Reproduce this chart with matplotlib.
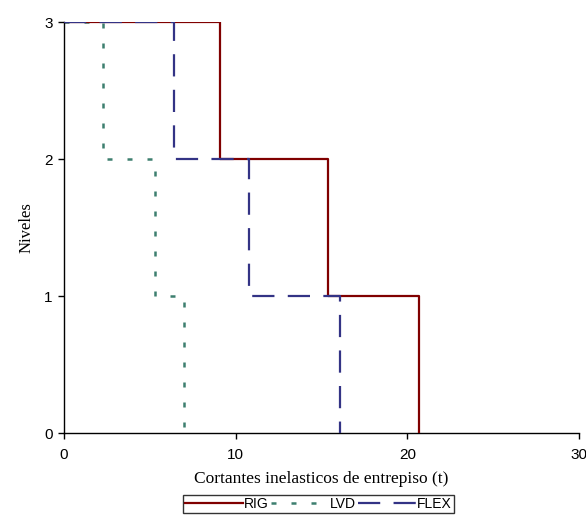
import matplotlib
matplotlib.use("Agg")
import matplotlib.pyplot as plt

levels = [3, 3, 2, 2, 1, 1, 0]
rig_shear = [9.1, 15.4, 20.7]
lvd_shear = [2.3, 5.3, 7.0]
flex_shear = [6.4, 10.8, 16.1]
series_names = ["RIG", "LVD", "FLEX"]
x_ticks = [0, 10, 20, 30]
y_ticks = [0, 1, 2, 3]


def step_x(v):
    return [0, v[0], v[0], v[1], v[1], v[2], v[2]]


fig = plt.figure(figsize=(5.86, 5.27), dpi=100)
ax = fig.add_axes([0.109, 0.178, 0.879, 0.780])

ax.plot(step_x(rig_shear), levels, color="#800000", lw=1.6, label=series_names[0], zorder=3)
ax.plot(step_x(lvd_shear), levels, color="#3d7f6f", lw=1.8, linestyle=(0, (2, 6)), label=series_names[1], zorder=2)
ax.plot(step_x(flex_shear), levels, color="#333385", lw=1.6, linestyle=(0, (10, 6)), label=series_names[2], zorder=4)

ax.set_xlim(0, 30)
ax.set_ylim(0, 3)
ax.set_xticks(x_ticks)
ax.set_yticks(y_ticks)
for s in ["top", "right"]:
    ax.spines[s].set_visible(False)
for s in ["left", "bottom"]:
    ax.spines[s].set_linewidth(1.0)
ax.tick_params(axis="both", direction="out", length=4, width=1, labelsize=11)
for lab in ax.get_xticklabels() + ax.get_yticklabels():
    lab.set_family("Liberation Sans")
ax.tick_params(axis="x", pad=7)
ax.tick_params(axis="y", pad=4)

ax.set_xlabel("Cortantes inelasticos de entrepiso (t)", family="Liberation Serif", fontsize=12.5, labelpad=6)
ax.set_ylabel("Niveles", family="Liberation Serif", fontsize=12, labelpad=7)

leg = fig.legend(loc="center", bbox_to_anchor=(0.543, 0.043), ncol=3, frameon=True,
                 fancybox=False, edgecolor="black", handlelength=4.2, handletextpad=0.05,
                 columnspacing=0.15, borderpad=0.15, borderaxespad=0,
                 prop={"family": "Liberation Sans", "size": 10})
leg.get_frame().set_linewidth(1.0)

fig.savefig("out.png", dpi=100, facecolor="white")
